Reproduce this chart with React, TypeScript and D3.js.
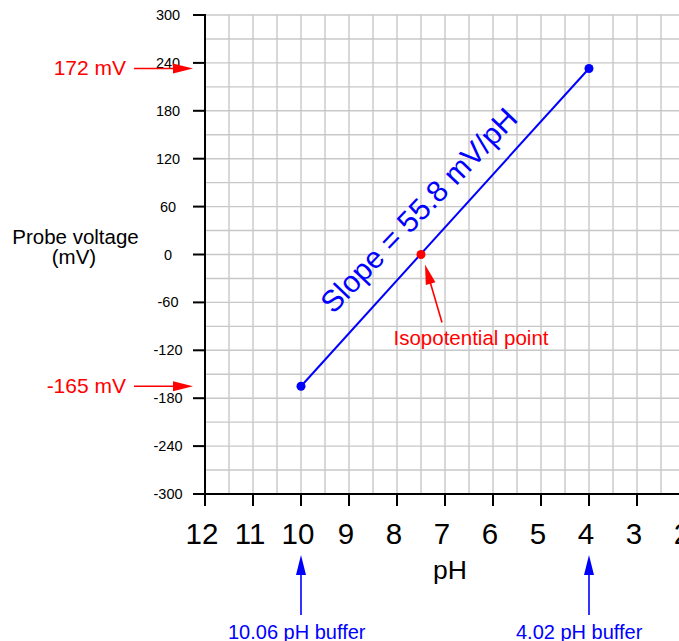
import React from "react";
import * as d3 from "d3";

const W = 679;
const H = 641;

const phTicks = [12, 11, 10, 9, 8, 7, 6, 5, 4, 3, 2];
const mvTicks = [300, 240, 180, 120, 60, 0, -60, -120, -180, -240, -300];
const bufferPH = [10, 4];
const probeMV = [-165, 233];
const bufferLabels = ["10.06 pH buffer", "4.02 pH buffer"];
const voltageLabels = ["-165 mV", "172 mV"];
const isoPH = [7.5];
const isoMV = [0];
const isoLabel = "Isopotential point";
const slopeLabel = "Slope = 55.8 mV/pH";

const FONT = "'Liberation Sans', Arial, Helvetica, sans-serif";
const BLUE = "#0000ff";
const RED = "#ff0000";

function Arrow({ x1, y1, x2, y2, color, len = 20, half = 5, width = 1.6 }) {
  const dx = x2 - x1;
  const dy = y2 - y1;
  const d = Math.sqrt(dx * dx + dy * dy);
  const ux = dx / d;
  const uy = dy / d;
  const bx = x2 - ux * len;
  const by = y2 - uy * len;
  const px = -uy;
  const py = ux;
  const head = `M${x2},${y2}L${bx + px * half},${by + py * half}L${bx - px * half},${by - py * half}Z`;
  return (
    <g>
      <line x1={x1} y1={y1} x2={bx + ux * 2} y2={by + uy * 2} stroke={color} strokeWidth={width} />
      <path d={head} fill={color} />
    </g>
  );
}

export default function App() {
  const x = d3.scaleLinear().domain([12, 2]).range([205, 685]);
  const y = d3.scaleLinear().domain([-300, 300]).range([494, 15]);
  const gridX = d3.range(2, 12.01, 0.5);
  const gridY = d3.range(-300, 300.1, 30);
  const [xL, xR] = x.range();
  const [yB, yT] = y.range();

  const pts = bufferPH.map((p, i) => [x(p), y(probeMV[i])] as [number, number]);
  const linePath = d3.line()(pts) || "";

  // slope label placement along the line
  const [p0, p1] = pts;
  const ddx = p1[0] - p0[0];
  const ddy = p1[1] - p0[1];
  const dl = Math.sqrt(ddx * ddx + ddy * ddy);
  const ux = ddx / dl;
  const uy = ddy / dl;
  const nx = uy; // perpendicular toward upper-left
  const ny = -ux;
  const mx = (p0[0] + p1[0]) / 2;
  const my = (p0[1] + p1[1]) / 2;
  const tcx = mx - 5 * ux + 31 * nx;
  const tcy = my - 5 * uy + 31 * ny;
  const ang = (Math.atan2(ddy, ddx) * 180) / Math.PI + 1.5;

  const ix = x(isoPH[0]);
  const iy = y(isoMV[0]);

  return (
    <svg
      width={W}
      height={H}
      style={{ position: "absolute", left: 0, top: 0, background: "#fff" }}
      fontFamily={FONT}
    >
      <rect x={0} y={0} width={W} height={H} fill="#fff" />
      {/* grid */}
      {gridX.map((g) => (
        <line key={"gx" + g} x1={x(g)} x2={x(g)} y1={yT} y2={yB} stroke="#c8c8c8" strokeWidth={1.4} />
      ))}
      {gridY.map((g) => (
        <line key={"gy" + g} x1={xL} x2={xR} y1={y(g)} y2={y(g)} stroke="#c8c8c8" strokeWidth={1.4} />
      ))}
      {/* axes */}
      <line x1={xL} x2={xL} y1={yT - 1} y2={yB + 1} stroke="#000" strokeWidth={2} />
      <line x1={xL - 1} x2={xR} y1={yB} y2={yB} stroke="#000" strokeWidth={2} />
      {mvTicks.map((t) => (
        <g key={"yt" + t}>
          <line x1={xL - 12} x2={xL} y1={y(t)} y2={y(t)} stroke="#000" strokeWidth={2} />
          <text x={168} y={y(t)} dy="0.35em" textAnchor="middle" fontSize={14.5} fill="#000">
            {t}
          </text>
        </g>
      ))}
      {phTicks.map((t) => (
        <g key={"xt" + t}>
          <line x1={x(t)} x2={x(t)} y1={yB} y2={yB + 12} stroke="#000" strokeWidth={2} />
          <text x={x(t) - 3} y={544} textAnchor="middle" fontSize={29.5} fill="#000">
            {t}
          </text>
        </g>
      ))}
      {/* axis titles */}
      <text x={450} y={579} textAnchor="middle" fontSize={26.5} fill="#000">
        pH
      </text>
      <text x={75.5} y={y(0) - 10.5} textAnchor="middle" fontSize={20.5} fill="#000">
        Probe voltage
      </text>
      <text x={74} y={y(0) + 9} textAnchor="middle" fontSize={20.5} fill="#000">
        (mV)
      </text>

      {/* calibration line */}
      <path d={linePath} fill="none" stroke={BLUE} strokeWidth={2} />
      {pts.map((p, i) => (
        <circle key={"pt" + i} cx={p[0]} cy={p[1]} r={4.5} fill={BLUE} />
      ))}
      <circle cx={ix} cy={iy} r={4.5} fill={RED} />

      <text
        x={tcx}
        y={tcy}
        dy="0.35em"
        textAnchor="middle"
        fontSize={30}
        fill={BLUE}
        transform={`rotate(${ang},${tcx},${tcy})`}
      >
        {slopeLabel}
      </text>

      {/* isopotential annotation */}
      <Arrow x1={ix + 21} y1={iy + 68} x2={ix + 4} y2={iy + 10} color={RED} />
      <text x={ix + 50} y={iy + 90} textAnchor="middle" fontSize={20.5} fill={RED}>
        {isoLabel}
      </text>

      {/* voltage annotations */}
      {probeMV.map((v, i) => (
        <g key={"va" + i}>
          <text x={126} y={y(v) + 7} textAnchor="end" fontSize={21} fill={RED}>
            {voltageLabels[i]}
          </text>
          <Arrow x1={134} y1={y(v)} x2={193} y2={y(v)} color={RED} />
        </g>
      ))}

      {/* buffer annotations */}
      {bufferPH.map((p, i) => (
        <g key={"ba" + i}>
          <Arrow x1={x(p)} y1={615} x2={x(p)} y2={555} color={BLUE} />
          <text x={x(p) - 73} y={639} textAnchor="start" fontSize={20} fill={BLUE}>
            {bufferLabels[i]}
          </text>
        </g>
      ))}
    </svg>
  );
}
